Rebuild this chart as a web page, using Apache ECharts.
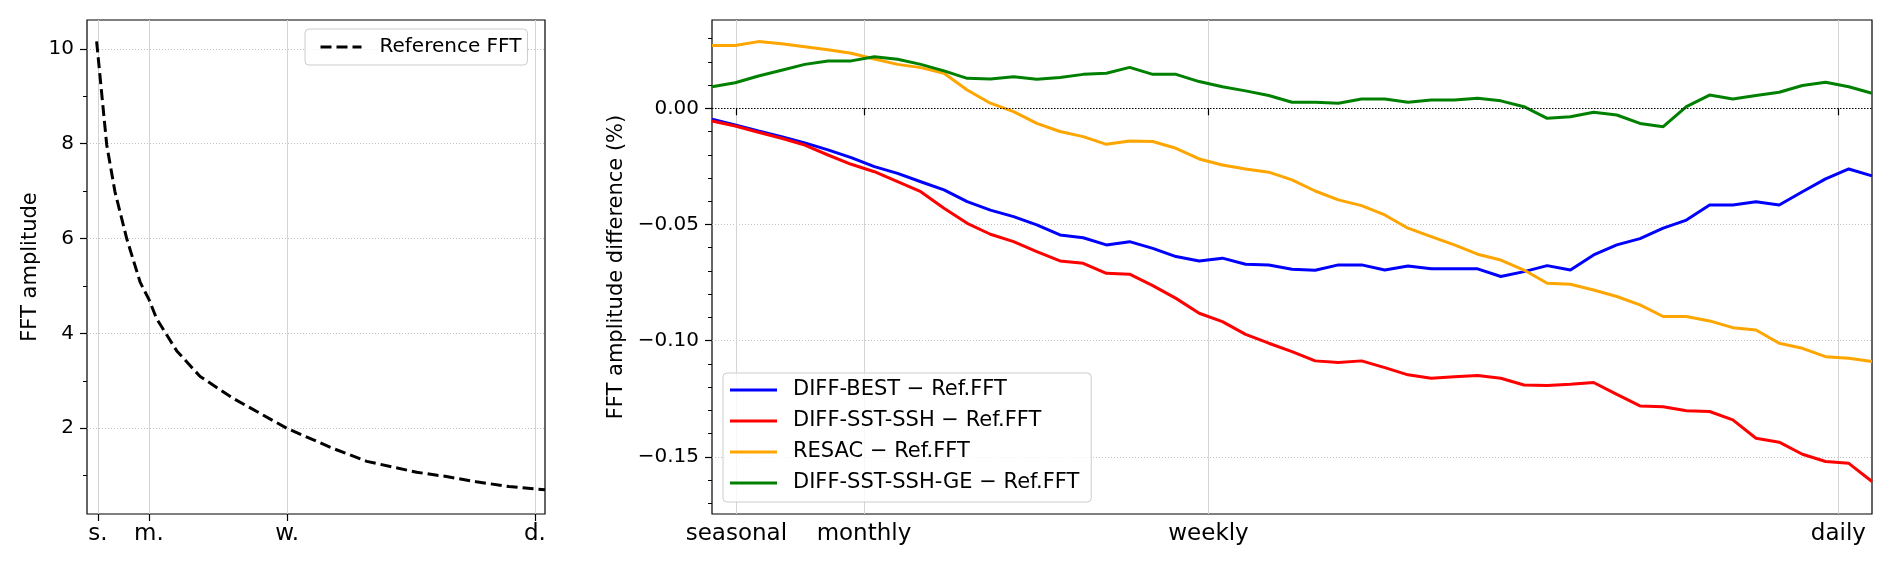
<!DOCTYPE html>
<html>
<head>
<meta charset="utf-8">
<script src="https://cdn.jsdelivr.net/npm/echarts@6/dist/echarts.min.js"></script>
<style>
html, body { margin: 0; padding: 0; background: #fff; }
#chart { width: 1892px; height: 568px; }
</style>
</head>
<body>
<div id="chart"></div>
<script>
// ---- left panel : reference spectrum ----
var refX   = [2.1, 4.3, 6.1, 8.7, 11.6, 13.6, 15.2, 19.6, 24.7, 31.9, 43.6, 53.8, 61.1, 72.0, 78.5, 85.0, 92.1, 100];
var refAmp = [10.16, 7.98, 6.99, 5.99, 5.08, 4.70, 4.31, 3.63, 3.09, 2.63, 2.00, 1.57, 1.30, 1.07, 0.98, 0.87, 0.77, 0.70];
var leftTickPos  = [2.4, 13.5, 43.7, 97.8];
var leftTickText = ['s.', 'm.', 'w.', 'd.'];
var leftMajor = [2, 4, 6, 8, 10];
var leftMinor = [1, 3, 5, 7, 9];

// ---- right panel : differences to the reference (%) ----
var freqX = [0, 2, 4, 6, 8, 10, 12, 14, 16, 18, 20, 22, 24, 26, 28, 30, 32, 34, 36, 38, 40,
             42, 44, 46, 48, 50, 52, 54, 56, 58, 60, 62, 64, 66, 68, 70, 72, 74, 76, 78, 80,
             82, 84, 86, 88, 90, 92, 94, 96, 98, 100];
var diffBest = [-0.0047, -0.0072, -0.0098, -0.0122, -0.0149, -0.0179, -0.0212, -0.0251, -0.0280, -0.0316,
                -0.0351, -0.0402, -0.0438, -0.0466, -0.0502, -0.0545, -0.0557, -0.0588, -0.0574, -0.0603,
                -0.0638, -0.0657, -0.0645, -0.0671, -0.0674, -0.0693, -0.0697, -0.0674, -0.0674, -0.0696,
                -0.0679, -0.0691, -0.0691, -0.0691, -0.0724, -0.0703, -0.0677, -0.0696, -0.0631, -0.0588,
                -0.0561, -0.0516, -0.0481, -0.0416, -0.0416, -0.0402, -0.0416, -0.0359, -0.0304, -0.0261,
                -0.0291];
var diffSstSsh = [-0.0055, -0.0076, -0.0103, -0.0129, -0.0158, -0.0201, -0.0241, -0.0273, -0.0316, -0.0359,
                  -0.0430, -0.0495, -0.0542, -0.0574, -0.0617, -0.0657, -0.0667, -0.0710, -0.0714, -0.0763,
                  -0.0818, -0.0882, -0.0918, -0.0973, -0.1011, -0.1047, -0.1087, -0.1094, -0.1087, -0.1116,
                  -0.1147, -0.1162, -0.1155, -0.1150, -0.1162, -0.1191, -0.1193, -0.1188, -0.1180, -0.1231,
                  -0.1281, -0.1284, -0.1302, -0.1305, -0.1341, -0.1420, -0.1437, -0.1489, -0.1520, -0.1528,
                  -0.1606];
var resac = [0.0270, 0.0270, 0.0287, 0.0278, 0.0265, 0.0252, 0.0237, 0.0212, 0.0189, 0.0175,
             0.0151, 0.0079, 0.0022, -0.0014, -0.0065, -0.0100, -0.0122, -0.0155, -0.0141, -0.0143,
             -0.0172, -0.0218, -0.0244, -0.0261, -0.0275, -0.0308, -0.0356, -0.0394, -0.0419, -0.0459,
             -0.0516, -0.0552, -0.0588, -0.0628, -0.0653, -0.0696, -0.0753, -0.0757, -0.0782, -0.0810,
             -0.0846, -0.0896, -0.0896, -0.0915, -0.0944, -0.0954, -0.1011, -0.1033, -0.1069, -0.1076,
             -0.1090];
var diffSstSshGe = [0.0093, 0.0110, 0.0139, 0.0164, 0.0189, 0.0204, 0.0204, 0.0222, 0.0211, 0.0189,
                    0.0161, 0.0129, 0.0126, 0.0136, 0.0125, 0.0133, 0.0146, 0.0151, 0.0176, 0.0146,
                    0.0146, 0.0115, 0.0093, 0.0075, 0.0055, 0.0026, 0.0026, 0.0022, 0.0040, 0.0040,
                    0.0026, 0.0036, 0.0036, 0.0043, 0.0032, 0.0007, -0.0043, -0.0036, -0.0017, -0.0029,
                    -0.0065, -0.0079, 0.0007, 0.0057, 0.0040, 0.0055, 0.0069, 0.0098, 0.0112, 0.0093,
                    0.0065];
var rightTickPos  = [2.1, 13.1, 42.8, 97.1];
var rightTickText = ['seasonal', 'monthly', 'weekly', 'daily'];
var rightMajor = [-0.15, -0.10, -0.05, 0];
var rightMinor = [-0.17, -0.16, -0.14, -0.13, -0.12, -0.11, -0.09, -0.08, -0.07, -0.06,
                  -0.04, -0.03, -0.02, -0.01, 0.01, 0.02, 0.03];

var seriesNames = ['DIFF-BEST \u2212 Ref.FFT', 'DIFF-SST-SSH \u2212 Ref.FFT',
                   'RESAC \u2212 Ref.FFT', 'DIFF-SST-SSH-GE \u2212 Ref.FFT'];
var seriesColors = ['#0000ff', '#ff0000', '#ffa500', '#008000'];
var seriesValues = [diffBest, diffSstSsh, resac, diffSstSshGe];

var FONT = 'DejaVu Sans';
var FS_X = 23;   // x tick labels
var FS_Y = 20;   // y tick labels
var FS_NAME = 21;
var LW = 3;

function pairs(xs, ys) {
    return xs.map(function (x, i) { return [x, ys[i]]; });
}

function xAxisFor(gridIndex, pos, text) {
    return {
        gridIndex: gridIndex,
        type: 'value',
        min: 0,
        max: 100,
        axisLine: { show: false },
        axisTick: { customValues: pos, length: 7, lineStyle: { color: '#000', width: 1.2 } },
        axisLabel: {
            customValues: pos,
            margin: 9,
            color: '#000',
            fontSize: FS_X,
            fontFamily: FONT,
            formatter: function (v) { return text[pos.indexOf(v)]; }
        },
        splitLine: { show: true, lineStyle: { color: '#d4d4d4', width: 1 } }
    };
}

function minorAxis(gridIndex, min, max, vals) {
    return {
        gridIndex: gridIndex,
        type: 'value',
        position: 'left',
        min: min,
        max: max,
        axisLine: { show: false },
        axisTick: { customValues: vals, length: 4, lineStyle: { color: '#000', width: 1 } },
        axisLabel: { show: false },
        splitLine: { show: false }
    };
}

var chart = echarts.init(document.getElementById('chart'));

var series = [{
    name: 'Reference FFT',
    type: 'line',
    xAxisIndex: 0,
    yAxisIndex: 0,
    data: pairs(refX, refAmp),
    symbol: 'none',
    lineStyle: { color: '#000', width: LW, type: [11, 5] },
    itemStyle: { color: '#000' }
}];
seriesNames.forEach(function (name, k) {
    var s = {
        name: name,
        type: 'line',
        xAxisIndex: 1,
        yAxisIndex: 2,
        data: pairs(freqX, seriesValues[k]),
        symbol: 'none',
        lineStyle: { color: seriesColors[k], width: LW },
        itemStyle: { color: seriesColors[k] }
    };
    if (k === 3) {
        s.markLine = {
            silent: true,
            symbol: ['none', 'none'],
            label: { show: false },
            lineStyle: { color: '#000', type: [1.5, 1.5], width: 1 },
            data: [{ yAxis: 0 }]
        };
    }
    series.push(s);
});

var legendFrame = {
    orient: 'vertical',
    borderColor: '#cccccc',
    borderWidth: 1,
    borderRadius: 4,
    backgroundColor: 'rgba(255,255,255,0.8)'
};

var option = {
    animation: false,
    backgroundColor: '#fff',
    grid: [
        { left: 87, top: 20, width: 458, height: 494, show: true, borderColor: '#000', borderWidth: 1.2 },
        { left: 712, top: 20, width: 1160, height: 494, show: true, borderColor: '#000', borderWidth: 1.2 }
    ],
    legend: [
        Object.assign({
            data: ['Reference FFT'],
            left: 305,
            top: 29,
            itemWidth: 41,
            itemHeight: 14,
            itemStyle: { opacity: 0 },
            lineStyle: { width: LW },
            padding: [7, 6, 7, 14],
            textStyle: { color: '#000', fontSize: 20, fontFamily: FONT, lineHeight: 22, padding: [0, 0, 0, 13] }
        }, legendFrame),
        Object.assign({
            data: seriesNames,
            left: 723,
            top: 373,
            icon: 'rect',
            itemWidth: 47,
            itemHeight: 3,
            itemGap: 9,
            padding: [6, 12, 8, 7],
            textStyle: { color: '#000', fontSize: 21, fontFamily: FONT, lineHeight: 22, padding: [0, 0, 0, 11] }
        }, legendFrame)
    ],
    xAxis: [
        xAxisFor(0, leftTickPos, leftTickText),
        xAxisFor(1, rightTickPos, rightTickText)
    ],
    yAxis: [
        {
            gridIndex: 0,
            type: 'value',
            position: 'left',
            min: 0.19,
            max: 10.61,
            name: 'FFT amplitude',
            nameLocation: 'middle',
            nameRotate: 90,
            nameGap: 46,
            nameTextStyle: { color: '#000', fontSize: FS_NAME, fontFamily: FONT },
            axisLine: { show: false },
            axisTick: { customValues: leftMajor, length: 7, lineStyle: { color: '#000', width: 1.2 } },
            axisLabel: { customValues: leftMajor, margin: 13, color: '#000', fontSize: FS_Y, fontFamily: FONT },
            splitLine: { show: true, lineStyle: { color: '#b0b0b0', width: 0.8, type: [1, 2] } }
        },
        minorAxis(0, 0.19, 10.61, leftMinor),
        {
            gridIndex: 1,
            type: 'value',
            position: 'left',
            min: -0.1746,
            max: 0.038,
            name: 'FFT amplitude difference (%)',
            nameLocation: 'middle',
            nameRotate: 90,
            nameGap: 84,
            nameTextStyle: { color: '#000', fontSize: FS_NAME, fontFamily: FONT },
            axisLine: { show: false },
            axisTick: { customValues: rightMajor, length: 7, lineStyle: { color: '#000', width: 1.2 } },
            axisLabel: {
                customValues: rightMajor,
                margin: 13,
                color: '#000',
                fontSize: FS_Y,
                fontFamily: FONT,
                formatter: function (v) {
                    return (v < 0 ? '\u2212' : '') + Math.abs(v).toFixed(2);
                }
            },
            splitLine: { show: true, lineStyle: { color: '#b0b0b0', width: 0.8, type: [1, 2] } }
        },
        minorAxis(1, -0.1746, 0.038, rightMinor)
    ],
    series: series
};

chart.setOption(option);
</script>
</body>
</html>
